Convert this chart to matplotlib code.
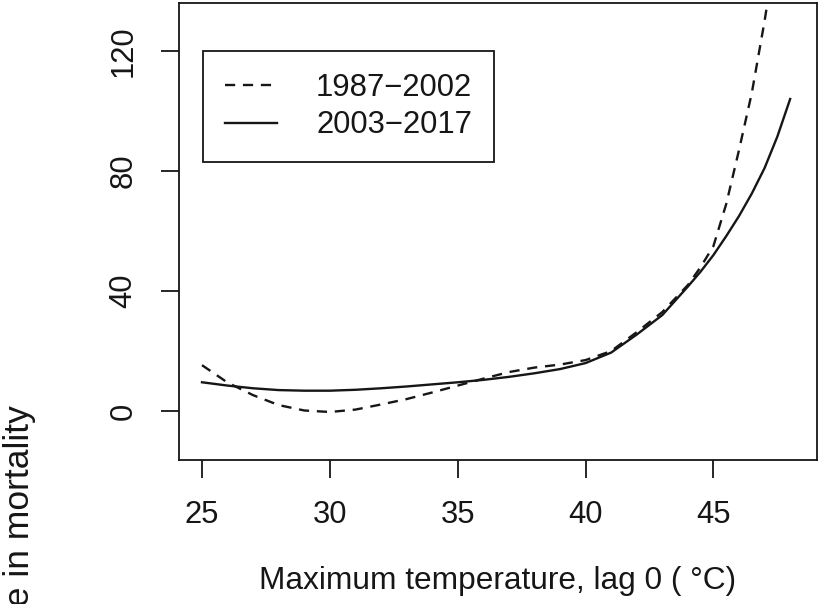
import matplotlib
matplotlib.use("Agg")
import matplotlib.pyplot as plt

plt.rcParams['font.family'] = ['Liberation Sans', 'DejaVu Sans']

# ---- data ----
temp_early = [25, 26, 27, 28, 29, 30, 31, 32, 33, 34, 35, 36, 37, 38, 39, 40,
              41, 42, 43, 44, 44.5, 45, 45.5, 46, 46.5, 47, 47.5, 48]
mort_early = [15.3, 9.5, 5.3, 2.0, 0.2, -0.3, 0.5, 2.2, 4.0, 6.2, 8.5, 10.8,
              13.0, 14.5, 15.5, 17.0, 20.0, 26.3, 33.0, 42.0, 48.0, 55.0,
              69.0, 87.0, 106.0, 130.0, 157.0, 186.0]

temp_late = [25, 26, 27, 28, 29, 30, 31, 32, 33, 34, 35, 36, 37, 38, 39, 40,
             41, 42, 43, 44, 44.5, 45, 45.5, 46, 46.5, 47, 47.5, 48]
mort_late = [9.6, 8.5, 7.6, 7.0, 6.8, 6.8, 7.1, 7.6, 8.2, 8.9, 9.6, 10.4,
             11.4, 12.6, 14.0, 16.0, 19.5, 25.5, 32.0, 41.5, 46.5, 52.0,
             58.3, 65.0, 72.5, 81.0, 91.5, 104.0]

series_labels = ['1987\u22122002', '2003\u22122017']
x_ticks = [25, 30, 35, 40, 45]
y_ticks = [0, 40, 80, 120]
x_label = 'Maximum temperature, lag 0 ( \u00b0C)'
y_label = '% change in mortality'

INK = '#161616'
FS = 22.3

W, H = 820, 604
fig = plt.figure(figsize=(W / 100, H / 100), dpi=100)
left, right, top, bottom = 179, 817, 3, 460
ax = fig.add_axes([left / W, 1 - bottom / H, (right - left) / W, (bottom - top) / H])

ax.plot(temp_early, mort_early, color=INK, lw=1.7, dashes=(4.3, 3.3),
        label=series_labels[0])
ax.plot(temp_late, mort_late, color=INK, lw=1.7, label=series_labels[1])

ax.set_xlim(24.1, 49.05)
ax.set_ylim(-16.3, 136)
ax.set_xticks(x_ticks)
ax.set_yticks(y_ticks)
ax.set_xticklabels([str(v) for v in x_ticks], fontsize=FS, color=INK)
ax.set_yticklabels([str(v) for v in y_ticks], fontsize=FS, color=INK,
                   rotation=90, va='center')
ax.tick_params(axis='both', direction='out', length=13, width=1.3, color=INK)
ax.tick_params(axis='x', pad=16)
ax.tick_params(axis='y', pad=16)
for s in ax.spines.values():
    s.set_linewidth(1.3)
    s.set_color(INK)

ax.set_xlabel(x_label, fontsize=22.8, color=INK, labelpad=26)

fig.text(20 / W, 1 - 405 / H, y_label, rotation=90, rotation_mode='anchor',
         ha='right', va='center', fontsize=25.5, color=INK)

leg = ax.legend(loc='upper left', bbox_to_anchor=(203 / W, 1 - 51 / H),
                bbox_transform=fig.transFigure, borderaxespad=0,
                fontsize=FS, handlelength=1.7, handletextpad=1.25,
                borderpad=0.7, labelspacing=0.25, fancybox=False,
                framealpha=1, edgecolor=INK)
leg.get_frame().set_linewidth(1.3)
for t in leg.get_texts():
    t.set_color(INK)

fig.savefig('out.png', dpi=100)
